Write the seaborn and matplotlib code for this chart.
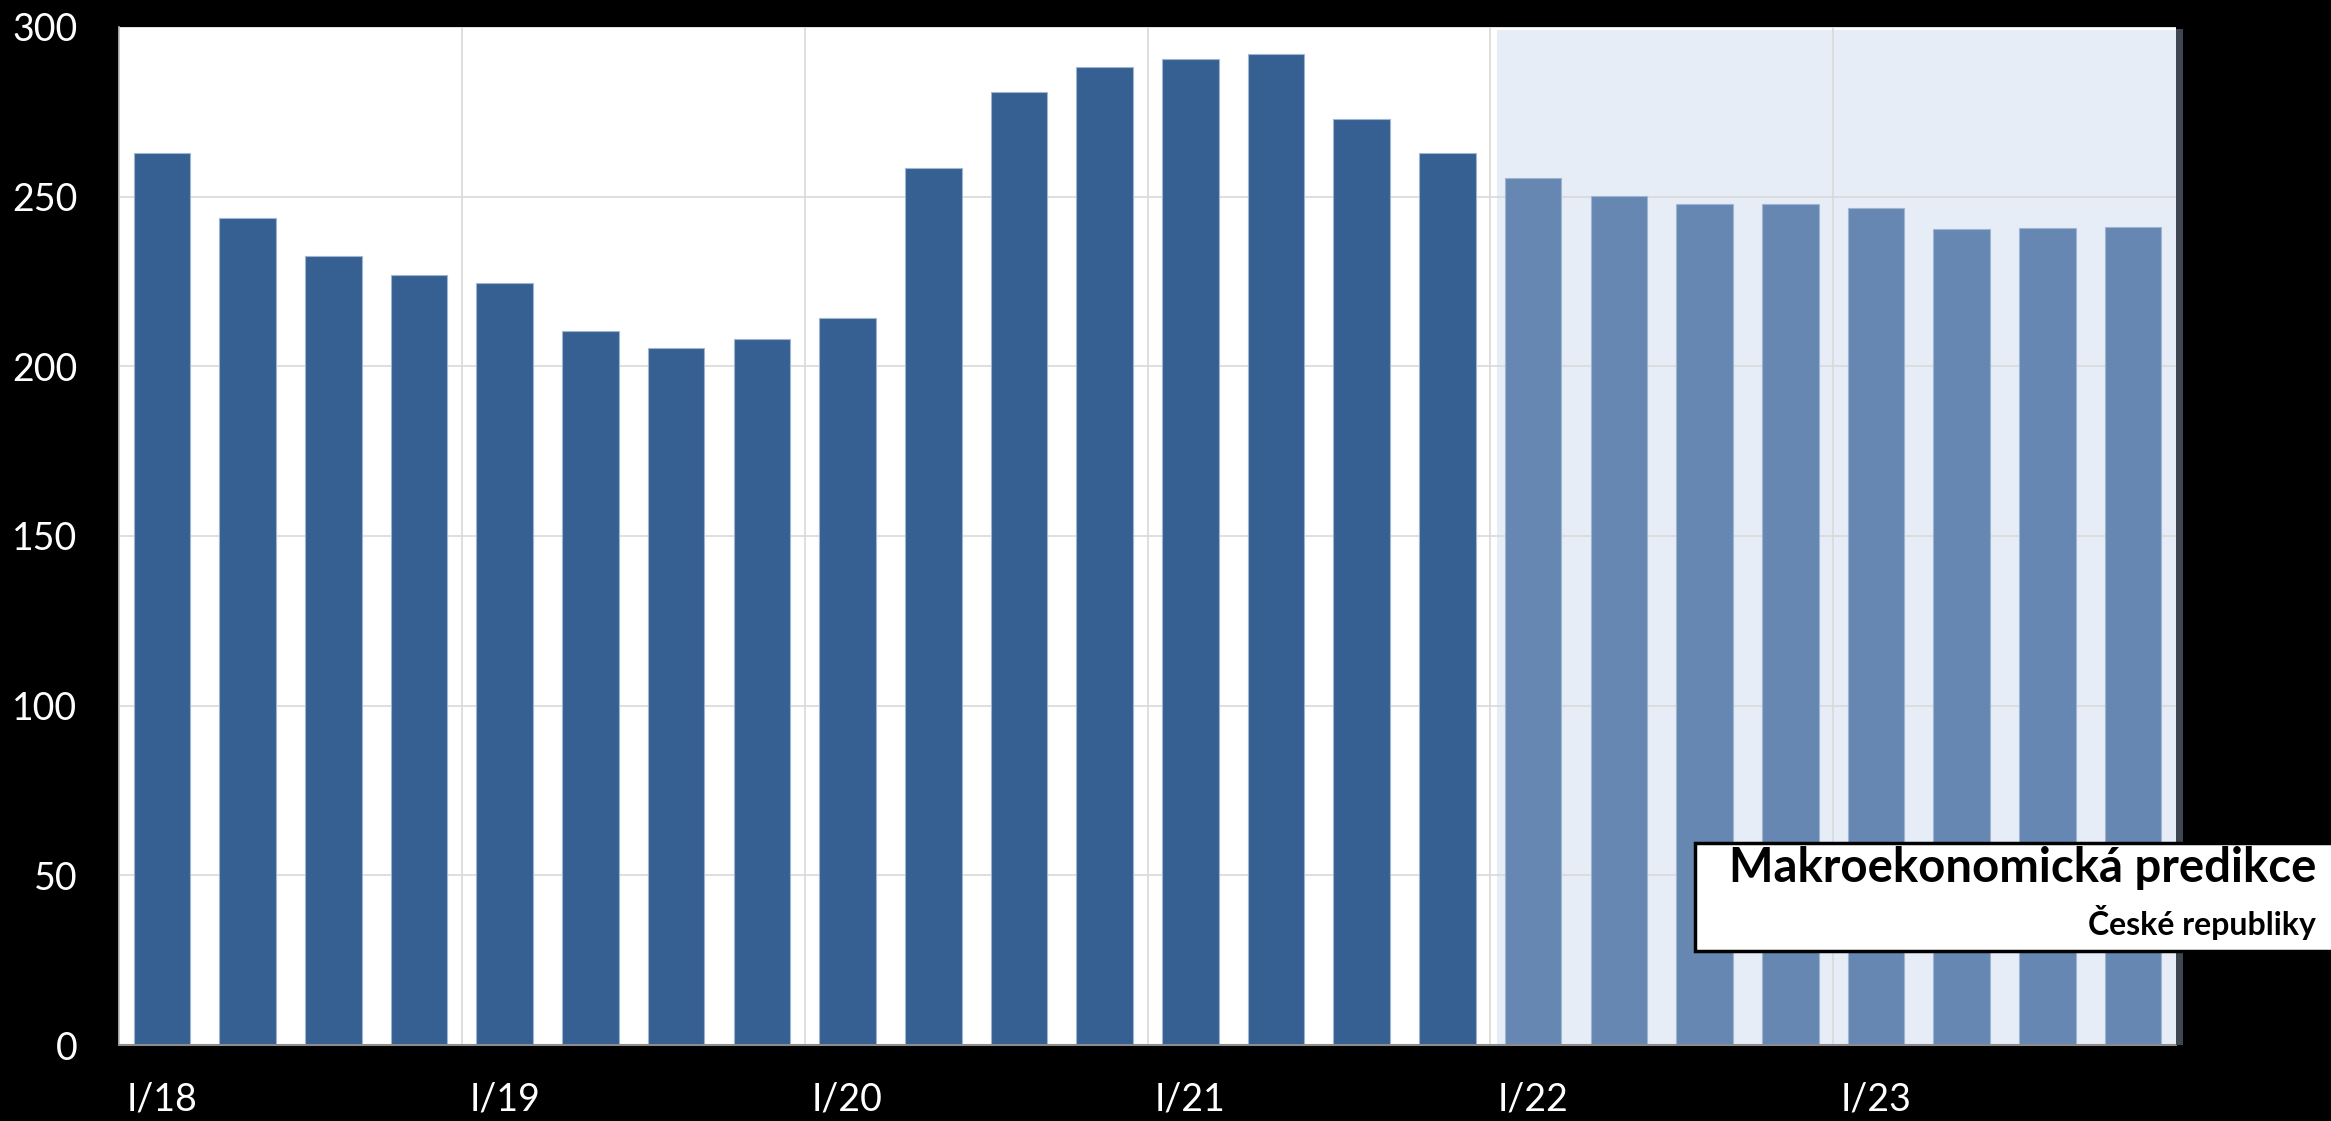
import matplotlib
matplotlib.use("Agg")
import matplotlib.pyplot as plt
from matplotlib.patches import Rectangle
import seaborn as sns
import pandas as pd

# ---- data ----
periods = ["I/18", "II/18", "III/18", "IV/18",
           "I/19", "II/19", "III/19", "IV/19",
           "I/20", "II/20", "III/20", "IV/20",
           "I/21", "II/21", "III/21", "IV/21",
           "I/22", "II/22", "III/22", "IV/22",
           "I/23", "II/23", "III/23", "IV/23"]
values = [263.0, 243.6, 232.6, 226.9,
          224.7, 210.3, 205.5, 208.0,
          214.1, 258.5, 280.7, 288.1,
          290.5, 292.1, 273.0, 262.9,
          255.4, 250.3, 247.9, 247.9,
          246.7, 240.5, 240.7, 241.0]
kind = ["actual"] * 16 + ["forecast"] * 8
shown_ticks = ["I/18", "I/19", "I/20", "I/21", "I/22", "I/23"]
y_ticks = [0, 50, 100, 150, 200, 250, 300]
title_main = "Makroekonomická predikce"
title_sub = "České republiky"

df = pd.DataFrame({"period": periods, "value": values, "kind": kind})

# ---- style ----
sns.set_theme(style="white")
plt.rcParams["font.family"] = ["Lato", "DejaVu Sans"]

W, H, DPI = 2331, 1121, 100
fig = plt.figure(figsize=(W / DPI, H / DPI), dpi=DPI, facecolor="black")
ax = fig.add_axes([119 / W, 1 - 1045 / H, (2176 - 119) / W, (1045 - 27) / H])
ax.set_facecolor("white")

sns.barplot(data=df, x="period", y="value", hue="kind",
            palette={"actual": "#366092", "forecast": "#6587b1"},
            saturation=1, dodge=False, width=0.66, legend=False, ax=ax,
            edgecolor="#9fb6d3", linewidth=0.8, zorder=2)

n = len(periods)
ax.set_xlim(-0.5, n - 0.5)
ax.set_ylim(0, 300)

# forecast shading
fstart = kind.index("forecast")
ax.axvspan(fstart - 0.5 + 0.08, n - 0.5, ymin=0, ymax=0.997,
           color="#e6edf6", zorder=0.2, lw=0)

# grid
ax.set_yticks(y_ticks)
ax.yaxis.grid(True, color="#d9d9d9", lw=1.2, zorder=0.5)
ax.set_axisbelow(True)
for i, p in enumerate(periods):
    if p.startswith("I/") and i > 0:
        ax.axvline(i - 0.5, color="#d9d9d9", lw=1.2, zorder=0.6)

# ticks
pos = [periods.index(t) for t in shown_ticks]
ax.set_xticks(pos)
ax.set_xticklabels(shown_ticks)
ax.set_xlabel("")
ax.set_ylabel("")
ax.tick_params(axis="x", colors="white", labelsize=27, length=0, pad=26)
ax.tick_params(axis="y", colors="white", labelsize=27, length=0, pad=30)
for lab in ax.get_xticklabels() + ax.get_yticklabels():
    lab.set_color("white")

for s in ["top", "right"]:
    ax.spines[s].set_visible(False)
ax.spines["left"].set_color("#bfbfbf")
ax.spines["left"].set_linewidth(1.2)
ax.spines["bottom"].set_color("#8c8c8c")
ax.spines["bottom"].set_linewidth(1.5)

# dark shadow strip at right of plot
fig.patches.append(Rectangle((2176 / W, 1 - 1045 / H), 7 / W, (1045 - 29) / H,
                             transform=fig.transFigure, facecolor="#3d4651",
                             edgecolor="none", zorder=5))

# label box
fig.patches.append(Rectangle((1695 / W, 1 - 951 / H), (2340 - 1695) / W, (951 - 843) / H,
                             transform=fig.transFigure, facecolor="white",
                             edgecolor="black", linewidth=2.5, zorder=6))
fig.text(2316 / W, 1 - 868 / H, title_main, ha="right", va="center",
         fontsize=34, fontweight="bold", color="black", zorder=7)
fig.text(2316 / W, 1 - 923 / H, title_sub, ha="right", va="center",
         fontsize=23, fontweight="bold", color="black", zorder=7)

fig.savefig("out.png", dpi=DPI, facecolor="black")
